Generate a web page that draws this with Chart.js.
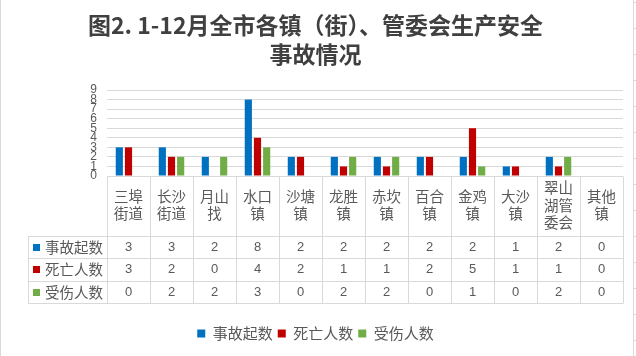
<!DOCTYPE html>
<html>
<head>
<meta charset="utf-8">
<script src="https://cdn.jsdelivr.net/npm/chart.js@4/dist/chart.umd.min.js"></script>
<style>
  html, body { margin: 0; padding: 0; background: #fff; }
  #wrap { width: 636px; height: 356px; position: relative; }
</style>
</head>
<body>
<div id="wrap"><canvas id="chart"></canvas></div>
<script>
// 数据
const categories = ['三埠街道', '长沙街道', '月山找', '水口镇', '沙塘镇', '龙胜镇', '赤坎镇', '百合镇', '金鸡镇', '大沙镇', '翠山湖管委会', '其他镇'];
const seriesNames = ['事故起数', '死亡人数', '受伤人数'];
const accidents = [3, 3, 2, 8, 2, 2, 2, 2, 2, 1, 2, 0];
const deaths = [3, 2, 0, 4, 2, 1, 1, 2, 5, 1, 1, 0];
const injuries = [0, 2, 2, 3, 0, 2, 2, 0, 1, 0, 2, 0];
const yTicks = [0, 1, 2, 3, 4, 5, 6, 7, 8, 9];
const titleLines = ['图2. 1-12月全市各镇（街）、管委会生产安全', '事故情况'];

const colors = ['#0070C0', '#C00000', '#70AD47'];
const allValues = [accidents, deaths, injuries];
const cjk = "'Noto Sans CJK SC', sans-serif";
const numFont = "'Liberation Sans', 'Noto Sans CJK SC', sans-serif";
const textGray = '#595959';
const lineGray = '#d9d9d9';

// 表格：类别标签、图例方块、数值
const tablePlugin = {
  id: 'dataTable',
  afterDraw(chart) {
    const ctx = chart.ctx;
    const area = chart.chartArea;
    const xs = chart.scales.x;
    const n = categories.length;
    const colW = (area.right - area.left) / n;
    const top = area.bottom;
    const headH = 60;
    const rowH = 22.4;
    const rowsTop = top + headH;
    const bottom = rowsTop + rowH * allValues.length;
    const labelLeft = 28;
    const p = v => Math.round(v) + 0.5;

    ctx.save();
    ctx.strokeStyle = lineGray;
    ctx.lineWidth = 1;
    ctx.beginPath();
    ctx.moveTo(area.left, p(top)); ctx.lineTo(area.right, p(top));
    for (let r = 0; r <= allValues.length; r++) {
      const y = p(rowsTop + r * rowH);
      ctx.moveTo(labelLeft, y); ctx.lineTo(area.right, y);
    }
    ctx.moveTo(p(labelLeft), p(rowsTop)); ctx.lineTo(p(labelLeft), p(bottom));
    for (let i = 0; i <= n; i++) {
      const xx = p(area.left + i * colW);
      ctx.moveTo(xx, p(top)); ctx.lineTo(xx, p(bottom));
    }
    // 外框
    ctx.moveTo(0.5, 0); ctx.lineTo(0.5, chart.height);
    ctx.moveTo(633.5, 0); ctx.lineTo(633.5, chart.height);
    for (let y = 2.5; y < chart.height; y += 26) {
      ctx.moveTo(633, y); ctx.lineTo(636, y);
    }
    ctx.stroke();

    // 类别标签，每行两个字
    ctx.fillStyle = textGray;
    ctx.font = '14.5px ' + cjk;
    ctx.textAlign = 'center';
    ctx.textBaseline = 'middle';
    const lh = 17.5;
    categories.forEach((c, i) => {
      const lines = c.match(/.{1,2}/g);
      const cx = xs.getPixelForValue(i);
      const y0 = top + 29 - (lines.length - 1) * lh / 2;
      lines.forEach((t, k) => ctx.fillText(t, cx, y0 + k * lh));
    });

    // 行标题与数值
    allValues.forEach((vals, r) => {
      const cy = rowsTop + r * rowH + rowH / 2;
      ctx.fillStyle = colors[r];
      ctx.fillRect(labelLeft + 5, Math.round(cy - 3.5), 7, 7);
      ctx.fillStyle = textGray;
      ctx.font = '14.5px ' + cjk;
      ctx.textAlign = 'left';
      ctx.fillText(seriesNames[r], labelLeft + 17, cy);
      ctx.font = '13px ' + numFont;
      ctx.textAlign = 'center';
      vals.forEach((v, i) => ctx.fillText(String(v), xs.getPixelForValue(i), cy));
    });
    ctx.restore();
  }
};

new Chart(document.getElementById('chart'), {
  type: 'bar',
  data: {
    labels: categories,
    datasets: seriesNames.map((name, i) => ({
      label: name,
      data: allValues[i],
      backgroundColor: colors[i],
      borderWidth: 0,
      categoryPercentage: 0.64,
      barPercentage: 0.78
    }))
  },
  options: {
    responsive: true,
    maintainAspectRatio: false,
    animation: false,
    layout: { padding: { left: 8, right: 13, top: 0, bottom: 5 } },
    plugins: {
      title: {
        display: true,
        text: titleLines,
        color: '#404040',
        font: { family: cjk, size: 23, weight: 'bold', lineHeight: 1.25 },
        padding: { top: 11, bottom: 21.5 }
      },
      legend: {
        position: 'bottom',
        labels: {
          boxWidth: 8,
          boxHeight: 8,
          padding: 5,
          color: textGray,
          font: { family: cjk, size: 15 }
        }
      },
      tooltip: { enabled: false }
    },
    scales: {
      x: {
        grid: { display: false },
        border: { display: false },
        ticks: { display: false },
        afterFit(scale) { scale.height = 145; }
      },
      y: {
        min: yTicks[0],
        max: yTicks[yTicks.length - 1],
        afterBuildTicks(scale) { scale.ticks = yTicks.map(v => ({ value: v })); },
        afterFit(scale) { scale.width = 99; },
        grid: { color: lineGray, drawTicks: false },
        border: { display: false },
        ticks: {
          autoSkip: false,
          padding: 10,
          color: textGray,
          font: { family: numFont, size: 12 }
        }
      }
    }
  },
  plugins: [tablePlugin]
});
</script>
</body>
</html>
